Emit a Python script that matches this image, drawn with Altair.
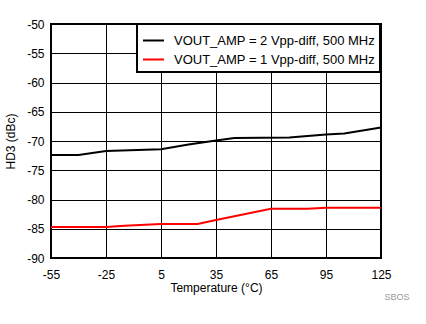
import altair as alt
import pandas as pd

series_names = ["VOUT_AMP = 2 Vpp-diff, 500 MHz", "VOUT_AMP = 1 Vpp-diff, 500 MHz"]
series_colors = ["#000000", "#ff0000"]

temp_2v = [-55, -40, -25, 5, 20, 35, 45, 75, 95, 105, 125]
hd3_2v = [-72.4, -72.4, -71.7, -71.4, -70.6, -69.9, -69.5, -69.4, -68.9, -68.7, -67.7]

temp_1v = [-55, -25, -15, 5, 25, 35, 65, 85, 95, 125]
hd3_1v = [-84.7, -84.7, -84.5, -84.2, -84.2, -83.5, -81.6, -81.6, -81.4, -81.4]

x_ticks = [-55, -25, 5, 35, 65, 95, 125]
y_ticks = [-90, -85, -80, -75, -70, -65, -60, -55, -50]

df = pd.concat([
    pd.DataFrame({"t": temp_2v, "v": hd3_2v, "s": series_names[0], "o": 0}),
    pd.DataFrame({"t": temp_1v, "v": hd3_1v, "s": series_names[1], "o": 1}),
])

FONT = "Liberation Sans"
LBL = "toString(datum.value)"

lines = alt.Chart(df).mark_line(strokeWidth=2, interpolate="linear").encode(
    x=alt.X("t:Q", scale=alt.Scale(domain=[-55, 125], nice=False, zero=False),
            axis=alt.Axis(values=x_ticks, title="Temperature (°C)", grid=True,
                          gridColor="black", gridOpacity=1, gridWidth=1,
                          ticks=False, domain=False, labelPadding=11,
                          labelFontSize=12, titleFontSize=12, titleFontWeight="normal",
                          labelColor="black", titleColor="black", titlePadding=2,
                          labelFont=FONT, titleFont=FONT, labelFlush=False,
                          labelExpr=LBL)),
    y=alt.Y("v:Q", scale=alt.Scale(domain=[-90, -50], nice=False, zero=False),
            axis=alt.Axis(values=y_ticks, title="HD3 (dBc)", grid=True,
                          gridColor="black", gridOpacity=1, gridWidth=1,
                          ticks=False, domain=False, labelPadding=7,
                          labelFontSize=12, titleFontSize=12, titleFontWeight="normal",
                          labelColor="black", titleColor="black", titlePadding=9,
                          labelFont=FONT, titleFont=FONT, labelExpr=LBL)),
    color=alt.Color("s:N", scale=alt.Scale(domain=series_names, range=series_colors),
                    legend=alt.Legend(title=None, orient="none", legendX=86, legendY=0,
                                      strokeColor="black", fillColor="white",
                                      padding=5, symbolType="stroke", symbolStrokeWidth=2,
                                      symbolSize=441, labelFontSize=13, labelFont=FONT,
                                      labelColor="black", rowPadding=-7, labelOffset=9,
                                      labelLimit=300)),
    detail="o:N",
)

note = alt.Chart(pd.DataFrame({"txt": ["SBOS"]})).mark_text(
    fontSize=9, color="#999999", font=FONT, align="center", baseline="middle"
).encode(x=alt.value(346), y=alt.value(273), text="txt:N")

chart = alt.layer(lines, note).properties(
    width=330, height=234,
    autosize=alt.AutoSizeParams(type="none"),
    padding={"left": 51, "top": 24, "right": 45, "bottom": 66},
).configure_view(stroke="black", strokeWidth=2).configure_legend(strokeWidth=2)

chart.save("out.html", embed_options={"renderer": "svg", "actions": False})
